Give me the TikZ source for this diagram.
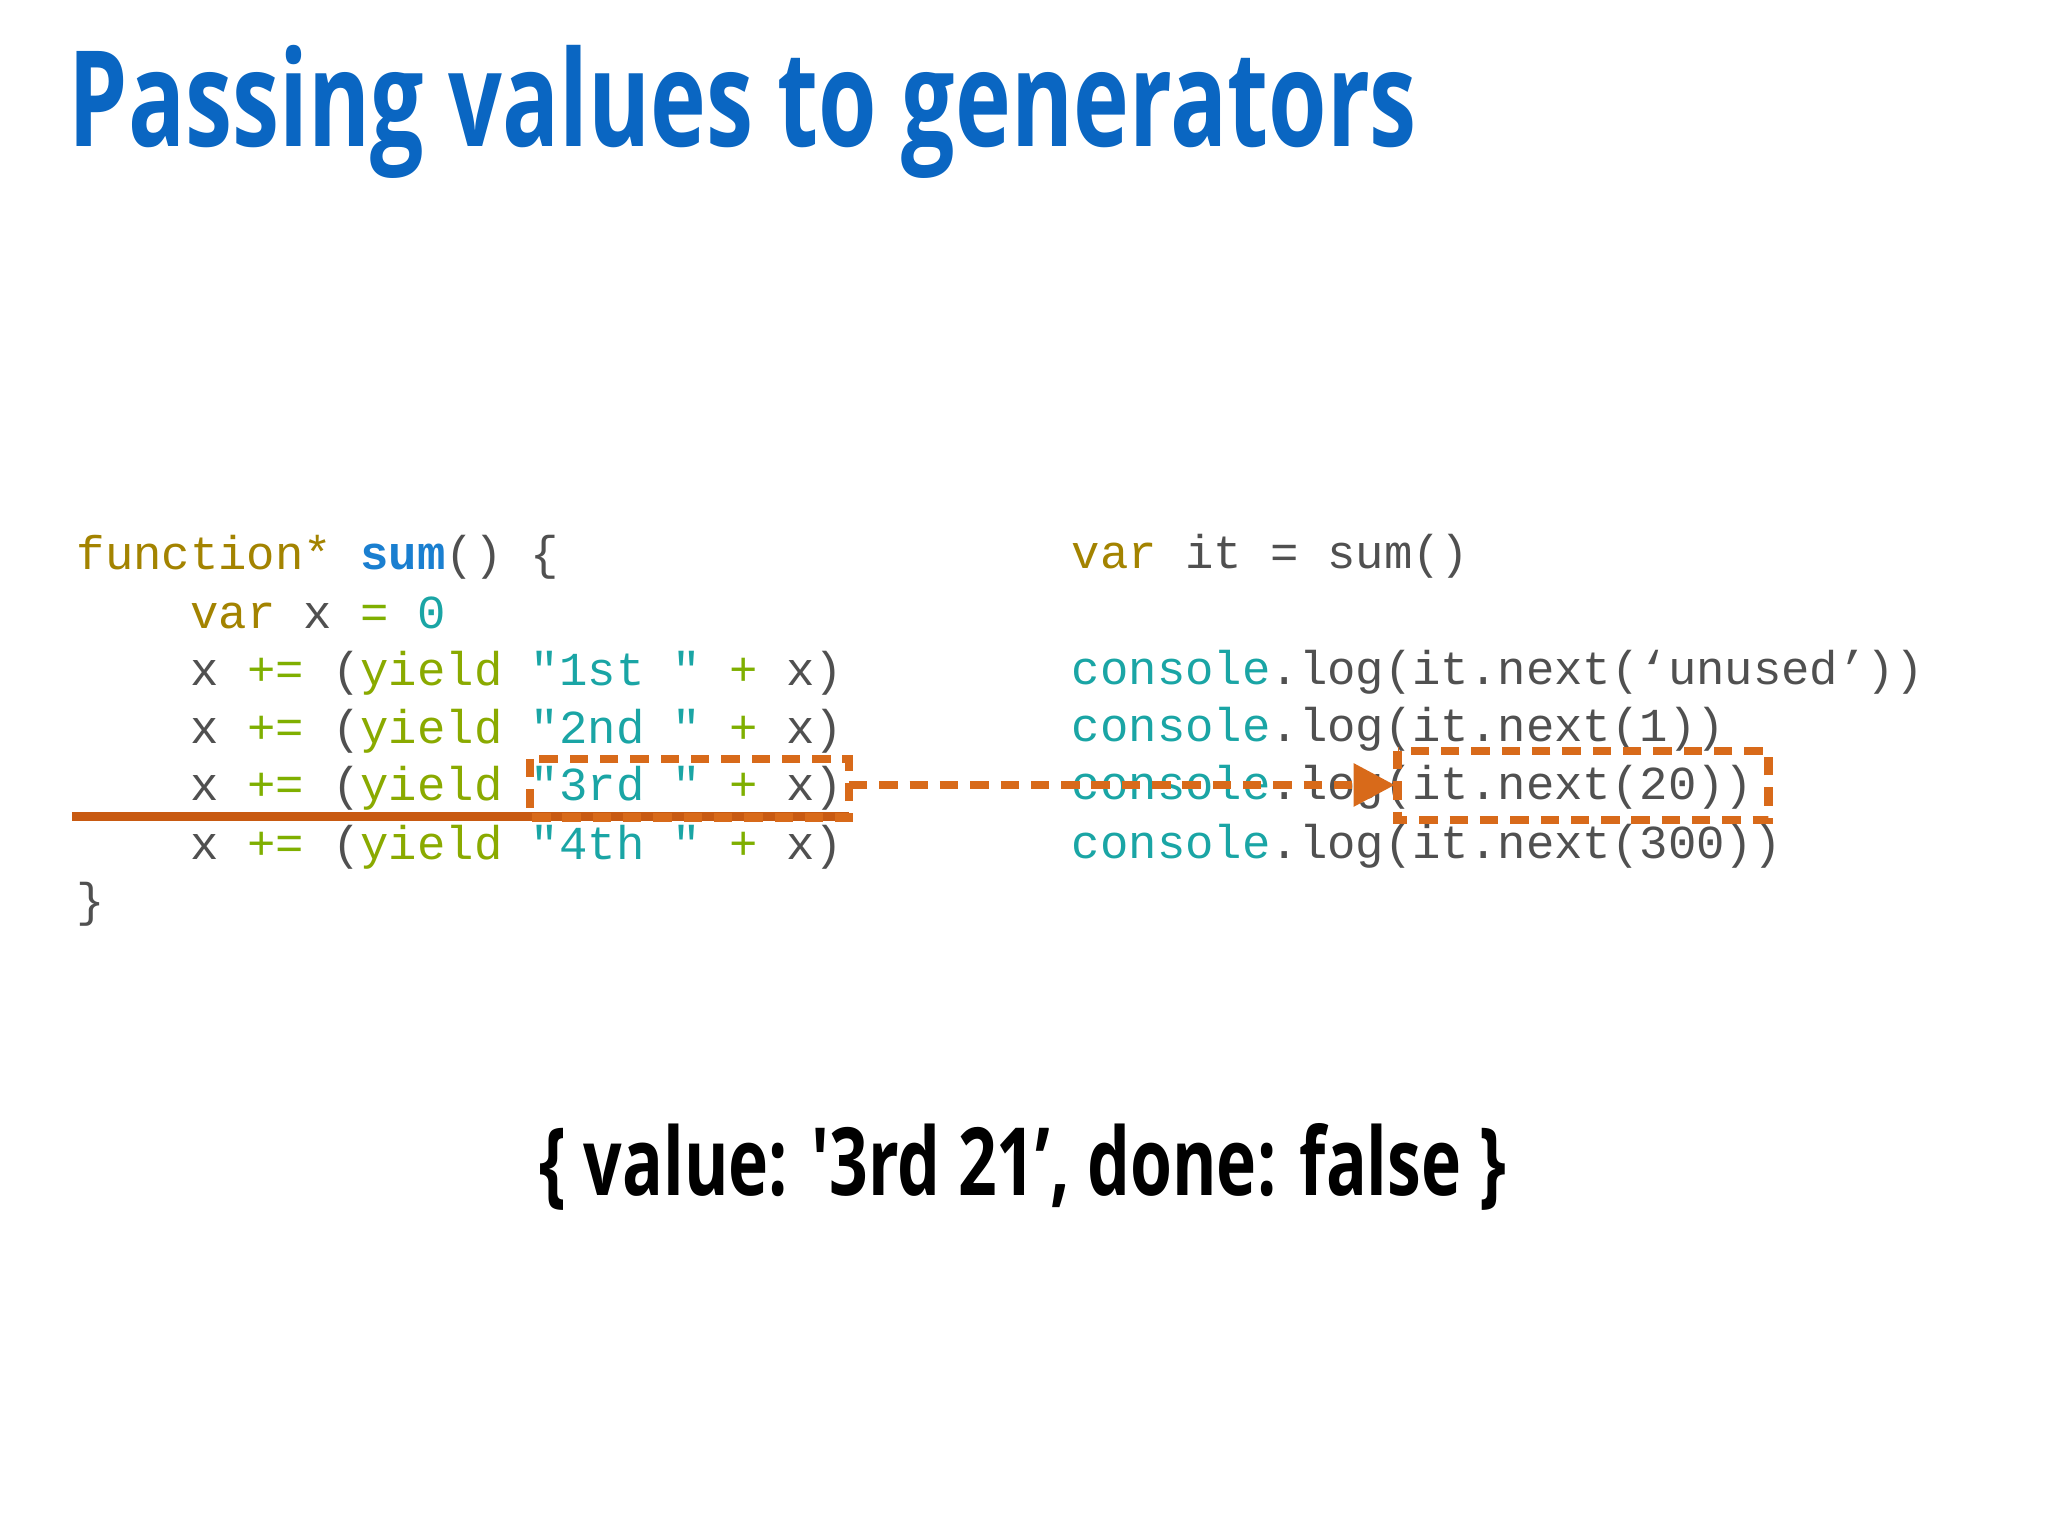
\documentclass[tikz,border=0pt]{standalone}
\usepackage{fontspec}
\setmonofont{Liberation Mono}
\newfontfamily\titlefont[FakeStretch=0.71]{Open Sans}
\newfontfamily\resfont[FakeStretch=0.72]{Open Sans}
\usetikzlibrary{arrows.meta}
\definecolor{kw}{HTML}{A38300}
\definecolor{fn}{HTML}{1A7FD0}
\definecolor{tx}{HTML}{505050}
\definecolor{op}{HTML}{7FAF00}
\definecolor{yl}{HTML}{8AAA00}
\definecolor{st}{HTML}{1AA5A5}
\definecolor{og}{HTML}{D86A1A}
\definecolor{og2}{HTML}{C85A12}
\definecolor{ttl}{HTML}{0A66C2}
\newcommand{\cK}[1]{\textcolor{kw}{#1}}
\newcommand{\cT}[1]{\textcolor{tx}{#1}}
\newcommand{\cO}[1]{\textcolor{op}{#1}}
\newcommand{\cY}[1]{\textcolor{yl}{#1}}
\newcommand{\cS}[1]{\textcolor{st}{#1}}
\begin{document}
\begin{tikzpicture}[x=0.01cm,y=-0.01cm,
  code/.style={anchor=base west,inner sep=0,font=\ttfamily\fontsize{10.3}{12}\selectfont},
  hl/.style={draw=og,line width=1.8pt,dash pattern=on 4pt off 2.6pt}]
\useasboundingbox[fill=white] (0,0) rectangle (1568,1176);
\node[anchor=base west,inner sep=0,text=ttl,font=\titlefont\bfseries\fontsize{29}{34}\selectfont] (title) at (52,112) {Passing values to generators};
% left code
\node[code] (l1) at (58,436) {\cK{function*}\ \textcolor{fn}{\bfseries sum}\cT{()\ \{}};
\node[code] (l2) at (58,481) {\ \ \ \ \cK{var}\cT{\ x\ }\cO{=}\ \cS{0}};
\node[code] (l3) at (58,525) {\ \ \ \ \cT{x}\ \cO{+=}\ \cT{(}\cY{yield}\ \cS{"1st\ "}\ \cO{+}\ \cT{x)}};
\node[code] (l4) at (58,569) {\ \ \ \ \cT{x}\ \cO{+=}\ \cT{(}\cY{yield}\ \cS{"2nd\ "}\ \cO{+}\ \cT{x)}};
\node[code] (l5) at (58,613) {\ \ \ \ \cT{x}\ \cO{+=}\ \cT{(}\cY{yield}\ \cS{"3rd\ "}\ \cO{+}\ \cT{x)}};
\node[code] (l6) at (58,658) {\ \ \ \ \cT{x}\ \cO{+=}\ \cT{(}\cY{yield}\ \cS{"4th\ "}\ \cO{+}\ \cT{x)}};
\node[code] (l7) at (58,702) {\cT{\}}};
% right code
\node[code] (r1) at (820,435) {\cK{var}\cT{\ it\ =\ sum()}};
\node[code] (r2) at (820,524) {\cS{console}\cT{.log(it.next(‘unused’))}};
\node[code] (r3) at (820,568) {\cS{console}\cT{.log(it.next(1))}};
\node[code] (r4) at (820,612) {\cS{console}\cT{.log(it.next(20))}};
\node[code] (r5) at (820,657) {\cS{console}\cT{.log(it.next(300))}};
% highlights
\draw[og2,line width=2pt] (55,625) -- (650,625);
\draw[hl] (406,581) rectangle (650,626);
\coordinate (b1e) at (650,601);
\draw[hl] (1070,575) rectangle (1354,628);
\coordinate (b2w) at (1068,601);
\draw[og,line width=1.8pt,dash pattern=on 4pt off 2.6pt,-{Triangle[length=9pt,width=9pt]}] (b1e) -- (b2w);
% result
\node[anchor=base,inner sep=0,font=\resfont\bfseries\fontsize{20.5}{24}\selectfont] (res) at (783,915) {\{ value: '3rd 21’, done: false \}};
\end{tikzpicture}
\end{document}
